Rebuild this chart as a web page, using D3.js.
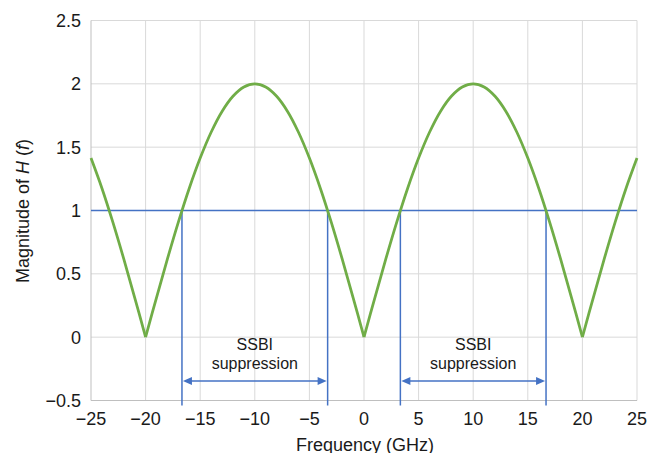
<!DOCTYPE html>
<html>
<head>
<meta charset="utf-8">
<script src="https://cdn.jsdelivr.net/npm/d3@7"></script>
<style>
  body { margin: 0; background: #fff; }
  text { font-family: "Liberation Sans", Arial, Helvetica, sans-serif; fill: #1a1a1a; }
</style>
</head>
<body>
<svg id="chart" width="649" height="453"></svg>
<script>
// data
var freq = [-25, -24, -23, -22, -21, -20, -19, -18, -17, -16, -15, -14, -13, -12, -11, -10,
  -9, -8, -7, -6, -5, -4, -3, -2, -1, 0, 1, 2, 3, 4, 5, 6, 7, 8, 9, 10,
  11, 12, 13, 14, 15, 16, 17, 18, 19, 20, 21, 22, 23, 24, 25];
var mag = [1.414, 1.176, 0.908, 0.618, 0.313, 0, 0.313, 0.618, 0.908, 1.176, 1.414, 1.618, 1.782, 1.902, 1.975, 2,
  1.975, 1.902, 1.782, 1.618, 1.414, 1.176, 0.908, 0.618, 0.313, 0, 0.313, 0.618, 0.908, 1.176, 1.414, 1.618, 1.782, 1.902, 1.975, 2,
  1.975, 1.902, 1.782, 1.618, 1.414, 1.176, 0.908, 0.618, 0.313, 0, 0.313, 0.618, 0.908, 1.176, 1.414];
var threshold = 1;
var bandStart = [-16.67, 3.33];
var bandEnd = [-3.33, 16.67];
var bandLabel = ["SSBI", "suppression"];
var xTicks = [-25, -20, -15, -10, -5, 0, 5, 10, 15, 20, 25];
var yTicks = [-0.5, 0, 0.5, 1, 1.5, 2, 2.5];

var margin = {left: 91, right: 12, top: 20.5, bottom: 52.5};
var W = 649, H = 453;

var x = d3.scaleLinear().domain([-25, 25]).range([margin.left, W - margin.right]);
var y = d3.scaleLinear().domain([-0.5, 2.5]).range([H - margin.bottom, margin.top]);

var svg = d3.select("#chart");
var fmt = function(v) { return v < 0 ? "\u2212" + Math.abs(v) : String(v); };

// grid
svg.append("g").selectAll("line").data(yTicks.slice(1)).join("line")
  .attr("x1", x(-25)).attr("x2", x(25))
  .attr("y1", d => y(d)).attr("y2", d => y(d))
  .attr("stroke", "#d9d9d9").attr("stroke-width", 1);
svg.append("g").selectAll("line").data(xTicks.slice(1)).join("line")
  .attr("x1", d => x(d)).attr("x2", d => x(d))
  .attr("y1", y(2.5)).attr("y2", y(-0.5))
  .attr("stroke", "#d9d9d9").attr("stroke-width", 1);

// axis lines
svg.append("line").attr("x1", x(-25)).attr("x2", x(-25)).attr("y1", y(2.5)).attr("y2", y(-0.5))
  .attr("stroke", "#bfbfbf");
svg.append("line").attr("x1", x(-25)).attr("x2", x(25)).attr("y1", y(-0.5)).attr("y2", y(-0.5))
  .attr("stroke", "#bfbfbf");

// tick labels
svg.append("g").selectAll("text").data(yTicks).join("text")
  .attr("x", x(-25) - 10).attr("y", d => y(d) + 6.5)
  .attr("text-anchor", "end").attr("font-size", 18)
  .text(fmt);
svg.append("g").selectAll("text").data(xTicks).join("text")
  .attr("x", d => x(d)).attr("y", y(-0.5) + 24)
  .attr("text-anchor", "middle").attr("font-size", 18)
  .text(fmt);

// axis titles (cut at the bottom edge, like the original)
svg.append("text").attr("x", x(0) + 1).attr("y", 451)
  .attr("text-anchor", "middle").attr("font-size", 18)
  .text("Frequency (GHz)");
var yt = svg.append("text")
  .attr("transform", "translate(29,211) rotate(-90)")
  .attr("text-anchor", "middle").attr("font-size", 18);
yt.append("tspan").text("Magnitude of ");
yt.append("tspan").attr("font-style", "italic").text("H");
yt.append("tspan").text(" (");
yt.append("tspan").attr("font-style", "italic").text("f");
yt.append("tspan").text(")");

var blue = "#4472c4";

// threshold line
svg.append("line").attr("x1", x(-25)).attr("x2", x(25))
  .attr("y1", y(threshold)).attr("y2", y(threshold))
  .attr("stroke", blue).attr("stroke-width", 1.5);

// vertical band edges
var edges = bandStart.concat(bandEnd);
svg.append("g").selectAll("line").data(edges).join("line")
  .attr("x1", d => x(d)).attr("x2", d => x(d))
  .attr("y1", y(threshold)).attr("y2", y(-0.5) + 5)
  .attr("stroke", blue).attr("stroke-width", 1.5);

// curve: smooth arcs, sharp at the zeros
var pts = freq.map((f, i) => [f, mag[i]]);
var pieces = [], cur = [];
pts.forEach(function(p) {
  cur.push(p);
  if (p[1] === 0 && cur.length > 1) { pieces.push(cur); cur = [p]; }
});
if (cur.length > 1) pieces.push(cur);

var line = d3.line().x(d => x(d[0])).y(d => y(d[1])).curve(d3.curveCatmullRom.alpha(0.5));
svg.append("g").selectAll("path").data(pieces).join("path")
  .attr("fill", "none").attr("stroke", "#70ad47").attr("stroke-width", 2.75)
  .attr("stroke-linejoin", "round")
  .attr("d", line);

// double arrows + labels
var ay = y(-0.5) - 19.5;
bandStart.forEach(function(s, i) {
  var e = bandEnd[i];
  var x0 = x(s) + 1, x1 = x(e) - 1;
  var g = svg.append("g");
  g.append("line").attr("x1", x0 + 8).attr("x2", x1 - 8)
    .attr("y1", ay).attr("y2", ay)
    .attr("stroke", blue).attr("stroke-width", 1.3);
  g.append("path").attr("fill", blue)
    .attr("d", "M" + x0 + "," + ay + "L" + (x0 + 9) + "," + (ay - 4) + "L" + (x0 + 9) + "," + (ay + 4) + "Z");
  g.append("path").attr("fill", blue)
    .attr("d", "M" + x1 + "," + ay + "L" + (x1 - 9) + "," + (ay - 4) + "L" + (x1 - 9) + "," + (ay + 4) + "Z");
  var cx = x((s + e) / 2);
  g.append("text").attr("x", cx).attr("y", ay - 31.5)
    .attr("text-anchor", "middle").attr("font-size", 16).text(bandLabel[0]);
  g.append("text").attr("x", cx).attr("y", ay - 12.5)
    .attr("text-anchor", "middle").attr("font-size", 16).text(bandLabel[1]);
});
</script>
</body>
</html>
